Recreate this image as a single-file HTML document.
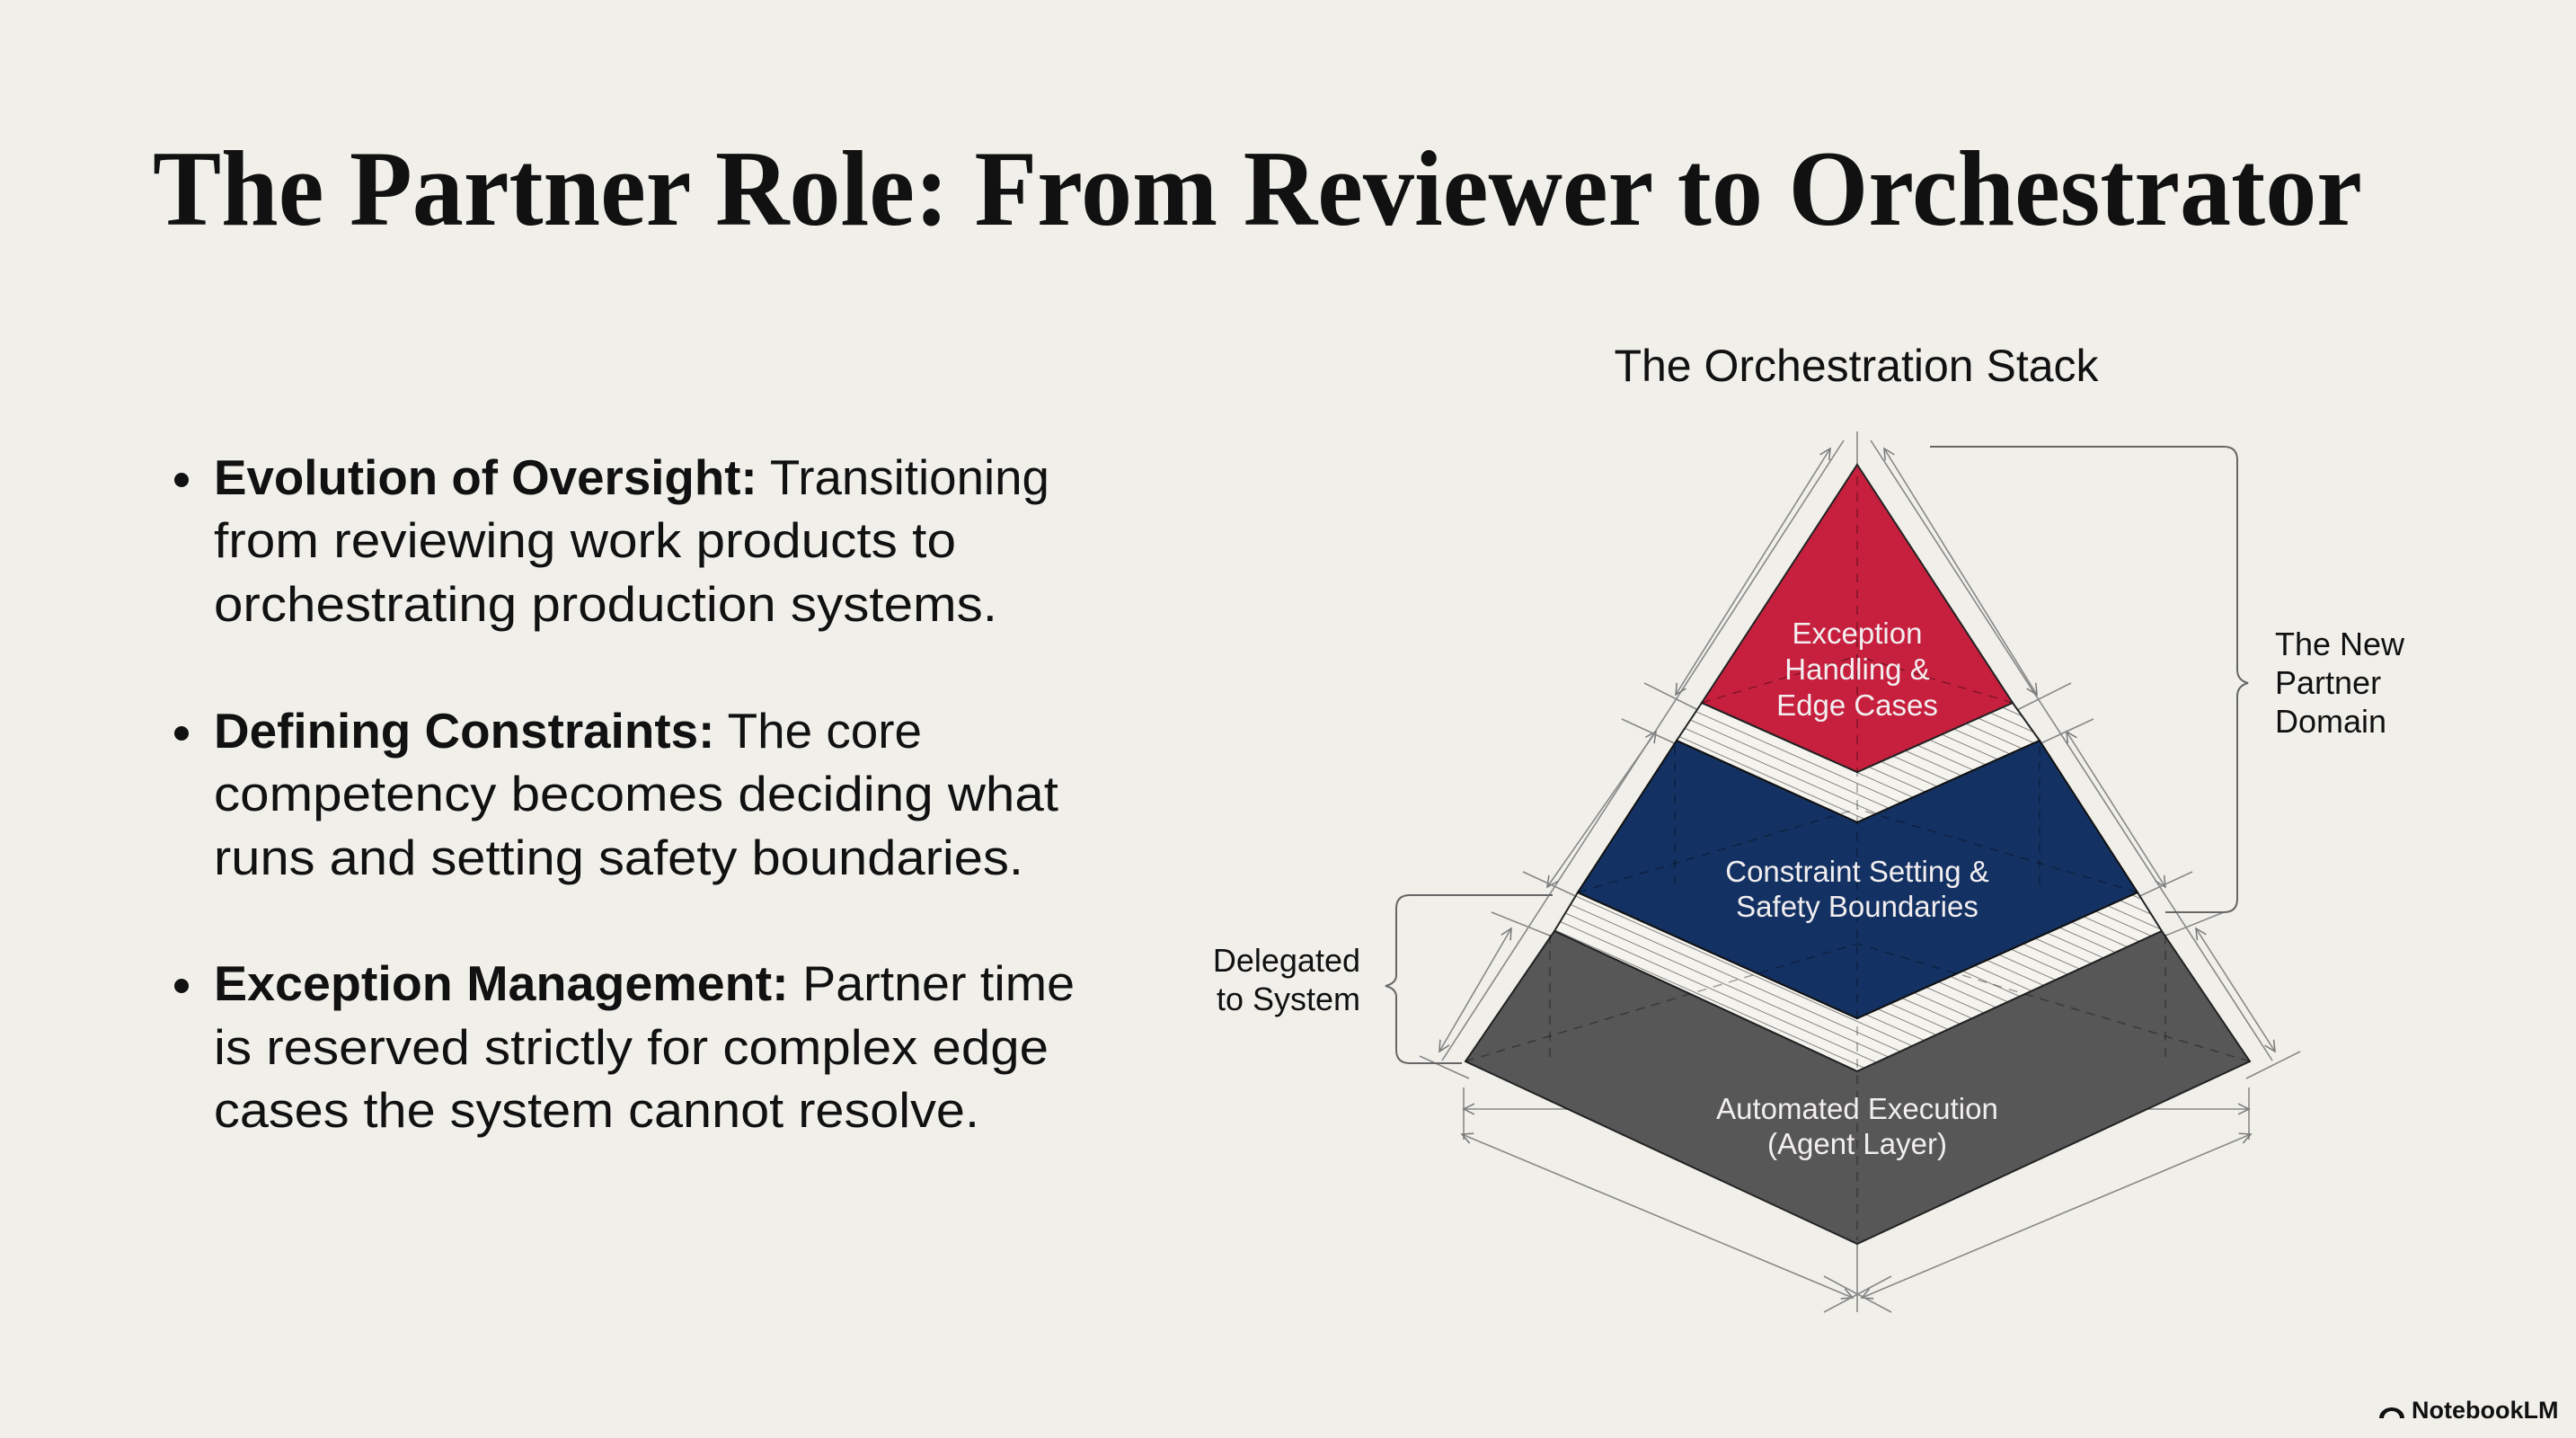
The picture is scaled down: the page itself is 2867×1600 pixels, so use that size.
<!DOCTYPE html>
<html><head><meta charset="utf-8"><style>
html,body{margin:0;padding:0;background:#f0efe9;}
svg{display:block;}
</style></head><body>
<svg width="2867" height="1600" viewBox="0 0 2867 1600" xmlns="http://www.w3.org/2000/svg">
<defs>
<pattern id="hatch" patternUnits="userSpaceOnUse" width="11" height="11" patternTransform="rotate(-66)">
<rect width="11" height="11" fill="#f4f3ee"/>
<line x1="0" y1="0" x2="0" y2="11" stroke="#777" stroke-width="1.8"/>
</pattern>
<marker id="ar" markerWidth="14" markerHeight="14" refX="12" refY="7" orient="auto-start-reverse" markerUnits="userSpaceOnUse">
<path d="M0,1 L12,7 L0,13" fill="none" stroke="#777" stroke-width="1.5"/>
</marker>
</defs>
<rect width="2867" height="1600" fill="#f0efe9"/>

<text x="170" y="250" font-family="Liberation Serif, serif" font-weight="bold" font-size="120" fill="#111" textLength="2459" lengthAdjust="spacingAndGlyphs">The Partner Role: From Reviewer to Orchestrator</text>

<g font-family="Liberation Sans, sans-serif" font-size="55" fill="#111">
<circle cx="202" cy="534" r="8" fill="#111"/>
<text x="238" y="550" textLength="930" lengthAdjust="spacingAndGlyphs"><tspan font-weight="bold">Evolution of Oversight:</tspan> Transitioning</text>
<text x="238" y="620" textLength="826" lengthAdjust="spacingAndGlyphs">from reviewing work products to</text>
<text x="238" y="691" textLength="872" lengthAdjust="spacingAndGlyphs">orchestrating production systems.</text>
<circle cx="202" cy="816" r="8" fill="#111"/>
<text x="238" y="832" textLength="788" lengthAdjust="spacingAndGlyphs"><tspan font-weight="bold">Defining Constraints:</tspan> The core</text>
<text x="238" y="902" textLength="940" lengthAdjust="spacingAndGlyphs">competency becomes deciding what</text>
<text x="238" y="973" textLength="901" lengthAdjust="spacingAndGlyphs">runs and setting safety boundaries.</text>
<circle cx="202" cy="1097" r="8" fill="#111"/>
<text x="238" y="1113" textLength="958" lengthAdjust="spacingAndGlyphs"><tspan font-weight="bold">Exception Management:</tspan> Partner time</text>
<text x="238" y="1184" textLength="929" lengthAdjust="spacingAndGlyphs">is reserved strictly for complex edge</text>
<text x="238" y="1254" textLength="852" lengthAdjust="spacingAndGlyphs">cases the system cannot resolve.</text>
</g>

<text x="2066" y="424" text-anchor="middle" font-family="Liberation Sans, sans-serif" font-size="50" fill="#111">The Orchestration Stack</text>

<g stroke="#888" stroke-width="1.6" fill="none">
<line x1="2067" y1="480" x2="2067" y2="1460"/>
<line x1="2052" y1="490" x2="1605" y2="1180"/>
<line x1="2082" y1="490" x2="2529" y2="1180"/>
<line x1="2037" y1="499" x2="1865" y2="773" marker-start="url(#ar)" marker-end="url(#ar)"/>
<line x1="2097" y1="499" x2="2267" y2="773" marker-start="url(#ar)" marker-end="url(#ar)"/>
<line x1="1843" y1="814" x2="1722" y2="987" marker-start="url(#ar)" marker-end="url(#ar)"/>
<line x1="2300" y1="814" x2="2410" y2="987" marker-start="url(#ar)" marker-end="url(#ar)"/>
<line x1="1682" y1="1033" x2="1602" y2="1170" marker-start="url(#ar)" marker-end="url(#ar)"/>
<line x1="2444" y1="1033" x2="2532" y2="1170" marker-start="url(#ar)" marker-end="url(#ar)"/>
<line x1="1830" y1="760" x2="1900" y2="795"/><line x1="2235" y1="795" x2="2305" y2="760"/>
<line x1="1805" y1="800" x2="1870" y2="830"/><line x1="2265" y1="830" x2="2330" y2="800"/>
<line x1="1695" y1="970" x2="1760" y2="1000"/><line x1="2375" y1="1000" x2="2440" y2="970"/>
<line x1="1660" y1="1015" x2="1735" y2="1045"/><line x1="2400" y1="1045" x2="2475" y2="1015"/>
<line x1="1580" y1="1175" x2="1635" y2="1200"/><line x1="2500" y1="1200" x2="2560" y2="1170"/>
<line x1="1629" y1="1210" x2="1629" y2="1268"/><line x1="2503" y1="1210" x2="2503" y2="1268"/>
<line x1="1629" y1="1234" x2="2503" y2="1234" marker-start="url(#ar)" marker-end="url(#ar)"/>
<line x1="1627" y1="1262" x2="2062" y2="1444" marker-start="url(#ar)" marker-end="url(#ar)"/>
<line x1="2072" y1="1444" x2="2505" y2="1262" marker-start="url(#ar)" marker-end="url(#ar)"/>
<line x1="2030" y1="1460" x2="2105" y2="1420"/><line x1="2030" y1="1420" x2="2105" y2="1460"/>
</g>

<polygon points="1894,782 2067,859 2240,782 2270,824 2067,915 1866,824" fill="url(#hatch)" stroke="#222" stroke-width="2"/>
<polygon points="1756,993 2067,1133 2379,993 2406,1036 2067,1192 1730,1036" fill="url(#hatch)" stroke="#222" stroke-width="2"/>

<polygon points="1730,1036 2067,1192 2406,1036 2504,1181 2067,1384 1631,1181" fill="#575757" stroke="#222" stroke-width="2"/>
<polygon points="1866,824 2067,915 2270,824 2379,993 2067,1133 1756,993" fill="#133263" stroke="#111" stroke-width="2"/>
<polygon points="2067,517 2240,782 2067,859 1894,782" fill="#c7203e" stroke="#222" stroke-width="2"/>

<g stroke="#000" stroke-opacity="0.35" stroke-width="1.5" stroke-dasharray="10,8" fill="none">
<line x1="2067" y1="530" x2="2067" y2="1380"/>
<line x1="1894" y1="782" x2="2067" y2="730"/><line x1="2240" y1="782" x2="2067" y2="730"/>
<line x1="1756" y1="993" x2="2067" y2="900"/><line x1="2379" y1="993" x2="2067" y2="900"/>
<line x1="1631" y1="1181" x2="2067" y2="1050"/><line x1="2504" y1="1181" x2="2067" y2="1050"/>
<line x1="1864" y1="830" x2="1864" y2="990"/><line x1="2270" y1="830" x2="2270" y2="990"/>
<line x1="1725" y1="1040" x2="1725" y2="1180"/><line x1="2410" y1="1040" x2="2410" y2="1180"/>
</g>

<g font-family="Liberation Sans, sans-serif" font-size="33" fill="#f2eef0" text-anchor="middle">
<text x="2067" y="716">Exception</text>
<text x="2067" y="756">Handling &amp;</text>
<text x="2067" y="796">Edge Cases</text>
<text x="2067" y="981">Constraint Setting &amp;</text>
<text x="2067" y="1020">Safety Boundaries</text>
<text x="2067" y="1245">Automated Execution</text>
<text x="2067" y="1284">(Agent Layer)</text>
</g>

<g stroke="#666" stroke-width="2" fill="none">
<path d="M2148,497 L2475,497 Q2490,497 2490,512 L2490,745 Q2490,757 2502,760 Q2490,763 2490,775 L2490,1000 Q2490,1015 2475,1015 L2410,1015"/>
<path d="M1728,996 L1569,996 Q1554,996 1554,1011 L1554,1085 Q1554,1094 1542,1097 Q1554,1100 1554,1109 L1554,1168 Q1554,1183 1569,1183 L1627,1183"/>
</g>
<g font-family="Liberation Sans, sans-serif" font-size="36" fill="#111">
<text x="2532" y="729">The New</text>
<text x="2532" y="772">Partner</text>
<text x="2532" y="815">Domain</text>
<text x="1514" y="1081" text-anchor="end">Delegated</text>
<text x="1514" y="1124" text-anchor="end">to System</text>
</g>

<g fill="#111">
<path d="M2648,1578 a14,12 0 0 1 28,0 h-5 a9,8 0 0 0 -18,0 z"/>
<text x="2684" y="1578" font-family="Liberation Sans, sans-serif" font-size="27" font-weight="bold">NotebookLM</text>
</g>
</svg>
</body></html>
